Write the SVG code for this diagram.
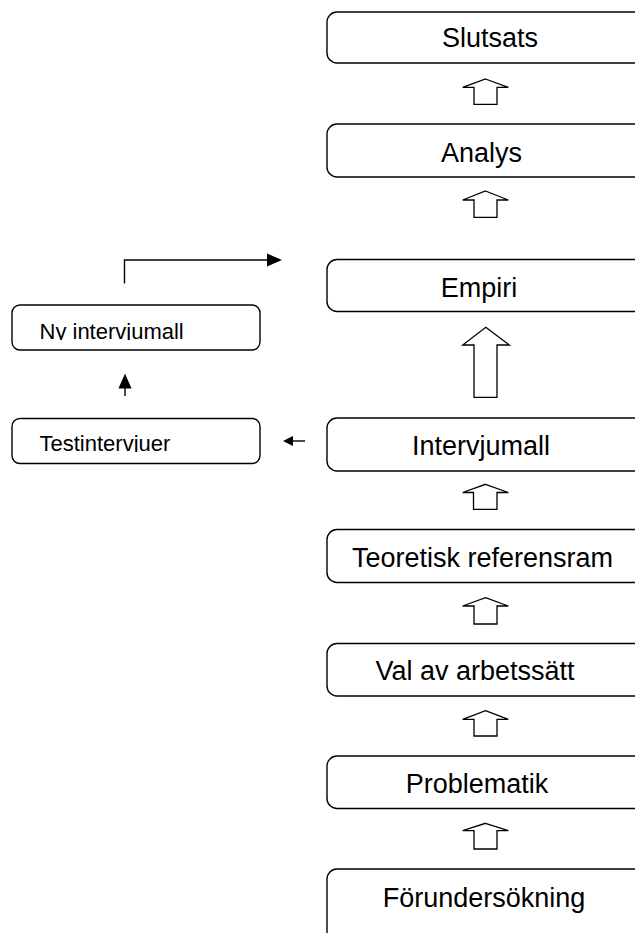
<svg xmlns="http://www.w3.org/2000/svg" width="635" height="933" viewBox="0 0 635 933">
<style>
.box{fill:#fff;stroke:#000;stroke-width:1.4}
.big{font-family:"Liberation Sans",Arial,sans-serif;font-size:27px;fill:#000;text-anchor:middle}
.small{font-family:"Liberation Sans",Arial,sans-serif;font-size:22px;fill:#000}
.blk{fill:#fff;stroke:#000;stroke-width:1.3;stroke-linejoin:miter}
.ln{fill:none;stroke:#000;stroke-width:1.4}
.hd{fill:#000;stroke:none}
</style>
<defs>
<clipPath id="c1"><rect x="12" y="300" width="248" height="40"/></clipPath>
<clipPath id="c2"><rect x="12" y="415" width="248" height="37"/></clipPath>
</defs>
<rect width="635" height="933" fill="#fff"/>
<g id="slutsats"><rect class="box" x="327" y="12" width="340" height="51" rx="10"/><text class="big" x="490" y="47">Slutsats</text></g>
<g id="analys"><rect class="box" x="327" y="124" width="340" height="53" rx="10"/><text class="big" x="481.5" y="162">Analys</text></g>
<g id="empiri"><rect class="box" x="327" y="259.5" width="340" height="52" rx="10"/><text class="big" x="479" y="297">Empiri</text></g>
<g id="intervjumall"><rect class="box" x="327" y="418" width="340" height="53" rx="10"/><text class="big" x="481" y="455">Intervjumall</text></g>
<g id="teoretisk"><rect class="box" x="327" y="529.5" width="340" height="53" rx="10"/><text class="big" x="482.5" y="566.5">Teoretisk referensram</text></g>
<g id="val"><rect class="box" x="327" y="643.5" width="340" height="52.5" rx="10"/><text class="big" x="475" y="680">Val av arbetssätt</text></g>
<g id="problematik"><rect class="box" x="327" y="756" width="340" height="52.5" rx="10"/><text class="big" x="477" y="792.5">Problematik</text></g>
<g id="forundersokning"><rect class="box" x="327" y="869" width="340" height="80" rx="10"/><text class="big" x="484" y="906.5">Förundersökning</text></g>
<g id="ny-intervjumall"><rect class="box" x="12" y="305" width="248" height="45" rx="8"/><text class="small" x="39.5" y="338.5" clip-path="url(#c1)">Ny intervjumall</text></g>
<g id="testintervjuer"><rect class="box" x="12" y="418.5" width="248" height="45" rx="8"/><text class="small" x="39.5" y="450.5" clip-path="url(#c2)">Testintervjuer</text></g>
<g id="connectors">
<polygon class="blk" points="485.5,79 508.3,87.3 497,87.3 497,104.3 474,104.3 474,87.3 462.7,87.3"/>
<polygon class="blk" points="485.5,191 508.3,200 497,200 497,217.3 474,217.3 474,200 462.7,200"/>
<polygon class="blk" points="485.8,327.3 509.3,345 497,345 497,397.3 474,397.3 474,345 462.7,345"/>
<polygon class="blk" points="485.5,484.3 508.3,492.5 497,492.5 497,509.3 473.5,509.3 473.5,492.5 462.7,492.5"/>
<polygon class="blk" points="485.5,597.7 508.3,606 497,606 497,624 474,624 474,606 462.7,606"/>
<polygon class="blk" points="485.5,710.7 508.3,719.3 497,719.3 497,736 474,736 474,719.3 462.7,719.3"/>
<polygon class="blk" points="485.5,823.3 508.3,830.7 497,830.7 497,849 474,849 474,830.7 462.7,830.7"/>
<path class="ln" d="M124.5,283.5 V260 H268"/>
<polygon class="hd" points="282,260 267,253.5 267,266.5"/>
<path class="ln" d="M125,396 V387"/>
<polygon class="hd" points="125,373.5 118.5,388.5 131.5,388.5"/>
<path class="ln" d="M305,441 H291"/>
<polygon class="hd" points="283,441 293,436 293,446"/>
</g>
</svg>
